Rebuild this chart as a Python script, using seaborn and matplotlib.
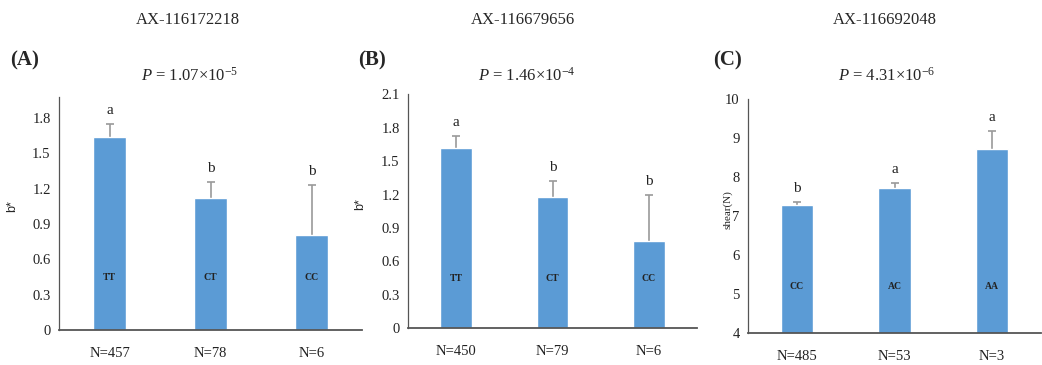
import numpy as np
import pandas as pd
import matplotlib
matplotlib.use("Agg")
import matplotlib.pyplot as plt
import seaborn as sns

sns.set_theme(style="white")
plt.rcParams['font.family'] = ['Liberation Serif', 'DejaVu Serif']
plt.rcParams['mathtext.fontset'] = 'custom'
plt.rcParams['mathtext.rm'] = 'Liberation Serif'
plt.rcParams['mathtext.it'] = 'Liberation Serif:italic'

# ---- data ----
titles = ["AX-116172218", "AX-116679656", "AX-116692048"]
panel_tags = ["(A)", "(B)", "(C)"]
p_exps = [("1.07", "-5"), ("1.46", "-4"), ("4.31", "-6")]
ylabels = ["b*", "b*", "shear(N)"]

n_labels_a = ["N=457", "N=78", "N=6"]
geno_a = ["TT", "CT", "CC"]
mean_a = [1.64, 1.12, 0.81]
err_a = [0.11, 0.14, 0.42]
sig_a = ["a", "b", "b"]

n_labels_b = ["N=450", "N=79", "N=6"]
geno_b = ["TT", "CT", "CC"]
mean_b = [1.62, 1.18, 0.78]
err_b = [0.11, 0.14, 0.42]
sig_b = ["a", "b", "b"]

n_labels_c = ["N=485", "N=53", "N=3"]
geno_c = ["CC", "AC", "AA"]
mean_c = [7.28, 7.72, 8.73]
err_c = [0.09, 0.14, 0.46]
sig_c = ["b", "a", "a"]

yticks_a = [0, 0.3, 0.6, 0.9, 1.2, 1.5, 1.8]
yticks_b = [0, 0.3, 0.6, 0.9, 1.2, 1.5, 1.8, 2.1]
yticks_c = [4, 5, 6, 7, 8, 9, 10]

panels = [
    dict(n=n_labels_a, g=geno_a, m=mean_a, e=err_a, s=sig_a, yt=yticks_a,
         ylim=(0, 1.98), rect=[59/1042, 1-330/365, 303/1042, 233/365],
         glab_y=0.45, ticks=False),
    dict(n=n_labels_b, g=geno_b, m=mean_b, e=err_b, s=sig_b, yt=yticks_b,
         ylim=(0, 2.1), rect=[408/1042, 1-328.3/365, 289/1042, 234/365],
         glab_y=0.45, ticks=True),
    dict(n=n_labels_c, g=geno_c, m=mean_c, e=err_c, s=sig_c, yt=yticks_c,
         ylim=(4, 10), rect=[748/1042, 1-333.3/365, 293/1042, 234/365],
         glab_y=5.2, ticks=False),
]

fig = plt.figure(figsize=(10.42, 3.65), dpi=100)
bar_color = "#5B9BD5"

title_x = [188/1042, 523/1042, 885/1042]
tag_x = [25/1042, 372/1042, 727/1042]
p_x = [190/1042, 527/1042, 887/1042]
ylab_x = [12/1042, 360/1042, 728/1042]

for i, pnl in enumerate(panels):
    ax = fig.add_axes(pnl["rect"])
    df = pd.DataFrame({"N": pnl["n"], "value": pnl["m"]})
    sns.barplot(data=df, x="N", y="value", color=bar_color, width=0.33,
                saturation=1, ax=ax, errorbar=None, zorder=2)
    xs = np.arange(len(pnl["m"]))
    ax.errorbar(xs, pnl["m"], yerr=pnl["e"],
                fmt="none", ecolor="#9a9a9a", elinewidth=1.2, capsize=3,
                capthick=1.2, zorder=1)
    for x, m, e, s, g in zip(xs, pnl["m"], pnl["e"], pnl["s"], pnl["g"]):
        ax.text(x, m + e + (pnl["ylim"][1]-pnl["ylim"][0])*0.03, s,
                ha="center", va="bottom", fontsize=11, color="#222222")
        ax.text(x, pnl["glab_y"], g, ha="center", va="center", fontsize=7,
                color="#222222", fontweight="bold", zorder=3)
    ax.set_xlim(-0.5, 2.5)
    ax.set_ylim(*pnl["ylim"])
    ax.set_yticks(pnl["yt"])
    ax.set_yticklabels([f"{v:g}" for v in pnl["yt"]], fontsize=10.5,
                       color="#222222")
    ax.set_xlabel("")
    ax.set_ylabel("")
    ax.tick_params(axis="x", labelsize=10.5, labelcolor="#222222", pad=12,
                   length=0)
    if pnl["ticks"]:
        ax.set_xticks([-0.5, 0.5, 1.5, 2.5], minor=True)
        ax.tick_params(axis="x", which="minor", length=4, width=1,
                       color="#555555", direction="out")
    ax.tick_params(axis="y", length=4, width=0.8, color="#555555",
                   direction="out", pad=2)
    for sp in ["top", "right"]:
        ax.spines[sp].set_visible(False)
    ax.spines["left"].set_color("#555555")
    ax.spines["left"].set_linewidth(0.9)
    ax.spines["bottom"].set_color("#555555")
    ax.spines["bottom"].set_linewidth(1.3)
    ax.set_facecolor("white")

    fig.text(title_x[i], 1-20/365, titles[i], ha="center", va="center",
             fontsize=12)
    fig.text(tag_x[i], 1-60/365, panel_tags[i], ha="center", va="center",
             fontsize=15, fontweight="bold")
    base, ex = p_exps[i]
    fig.text(p_x[i], 1-76/365,
             r"$\mathit{P}$" + f" = {base}" + r"$\times$10$^{" + ex + r"}$",
             ha="center", va="center", fontsize=12)
    if i < 2:
        fig.text(ylab_x[i], pnl["rect"][1] + pnl["rect"][3]*0.53, ylabels[i],
                 rotation=90, ha="center", va="center", fontsize=9,
                 family=["Liberation Sans", "DejaVu Sans"])
    else:
        fig.text(ylab_x[i], pnl["rect"][1] + pnl["rect"][3]*0.53, ylabels[i],
                 rotation=90, ha="center", va="center", fontsize=8)

fig.savefig("out.png", dpi=100, facecolor="white")
